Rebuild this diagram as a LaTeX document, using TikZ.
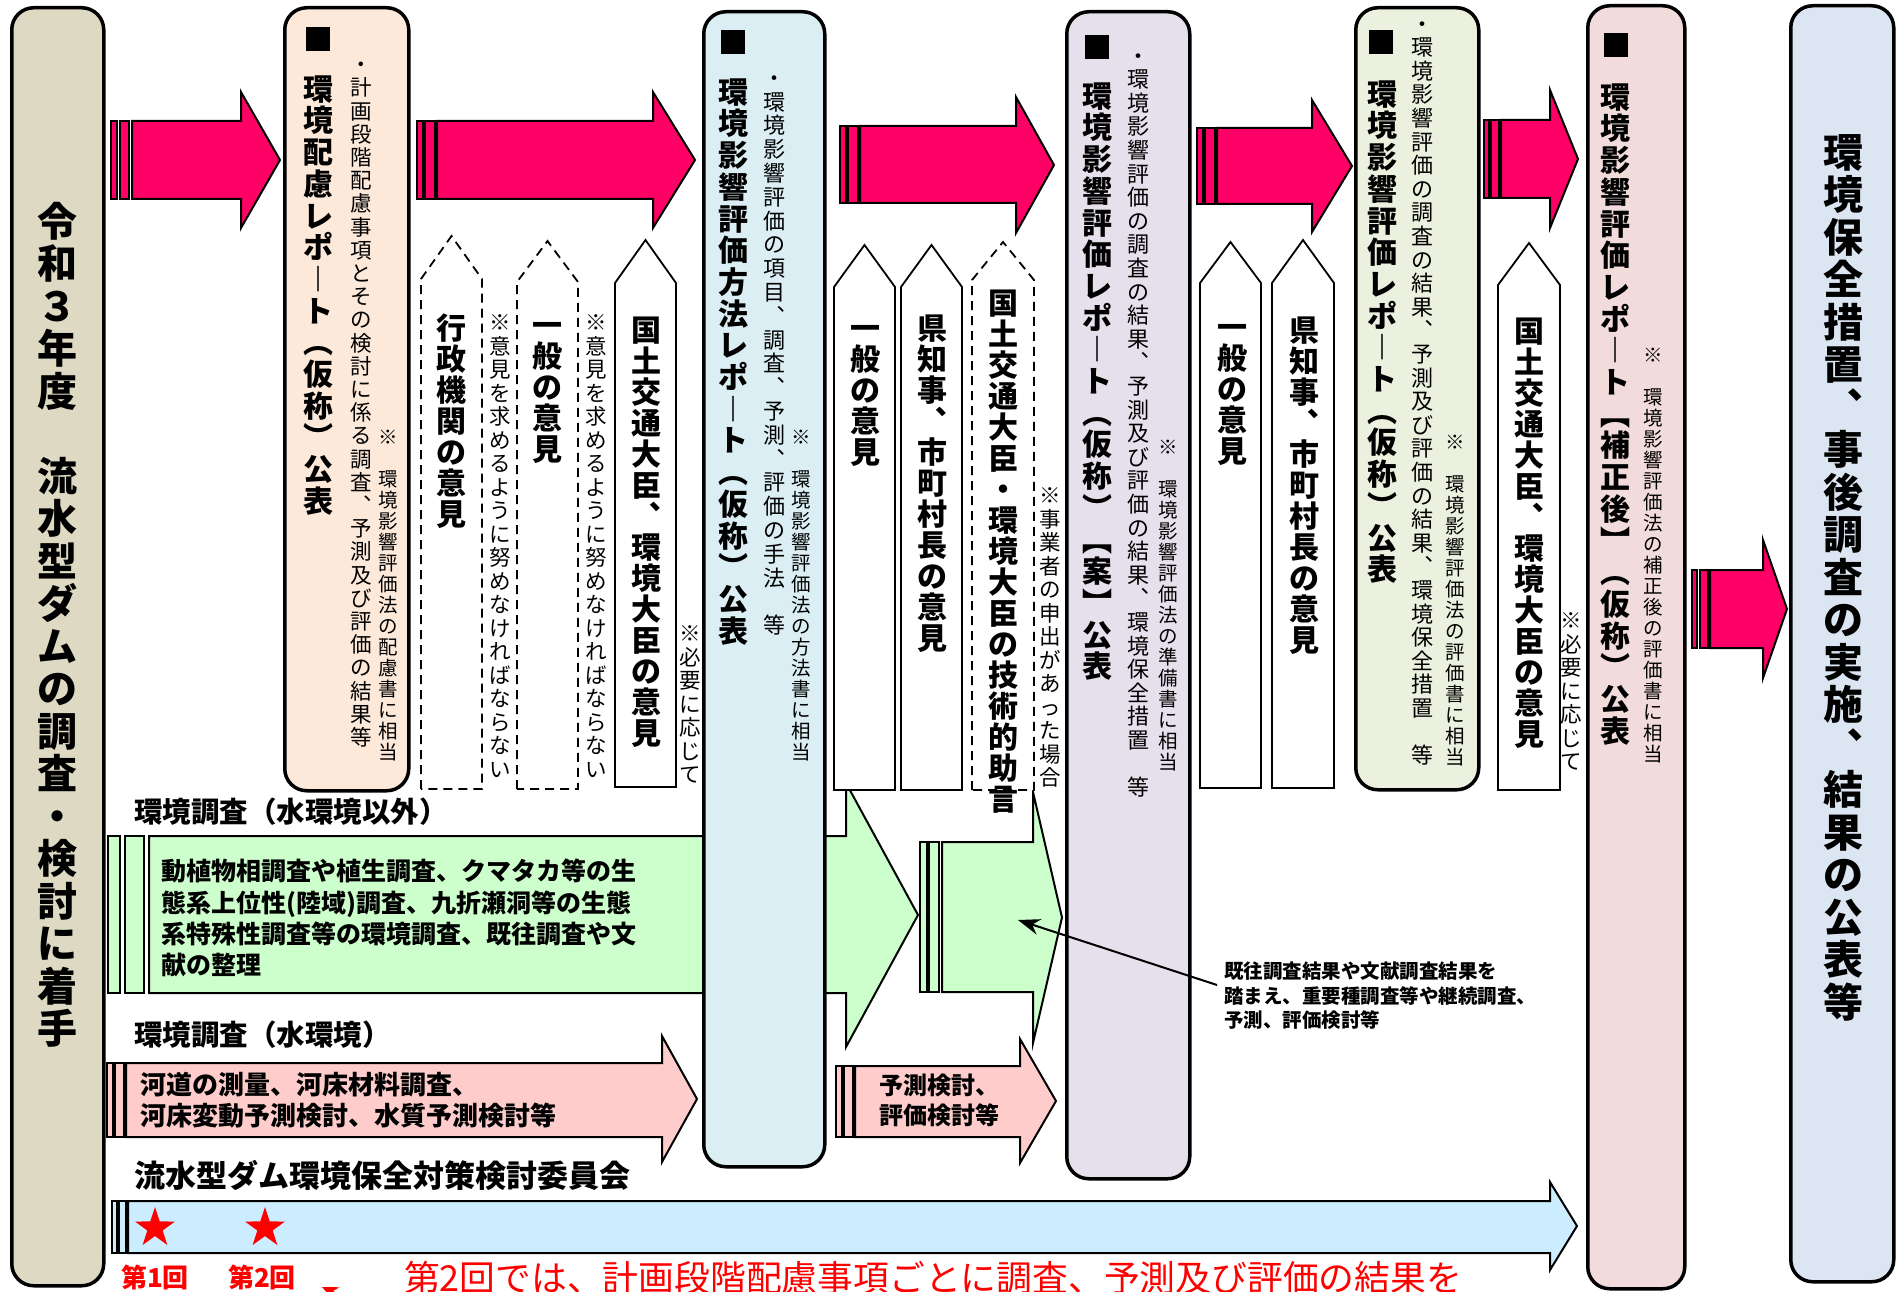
\documentclass[tikz,border=0pt]{standalone}
\usepackage{fontspec}
\setmainfont{Noto Sans CJK JP}
\usetikzlibrary{shapes.geometric,arrows.meta}
\definecolor{cLeft}{HTML}{DDD9C3}
\definecolor{cBa}{HTML}{FDE9D9}
\definecolor{cBb}{HTML}{DAEEF3}
\definecolor{cBc}{HTML}{E5E0EC}
\definecolor{cBd}{HTML}{EBF1DE}
\definecolor{cBe}{HTML}{F2DCDB}
\definecolor{cBf}{HTML}{DCE6F2}
\definecolor{cPink}{HTML}{FF0066}
\definecolor{cGreen}{HTML}{CCFFCC}
\definecolor{cRose}{HTML}{FFCCCC}
\definecolor{cSky}{HTML}{CCECFF}
\makeatletter
\newcommand\vtxt[3]{\fontsize{#1pt}{#2pt}\selectfont\vbox{\baselineskip=#2pt\relax\lineskiplimit=-\maxdimen\lineskip=0pt\relax\@tfor\vt@c:=#3\do{\hbox to 1em{\hss\vt@c\hss\vrule height .88em depth .12em width 0pt}}}}
\makeatother
\tikzset{
  vtnode/.style={inner sep=0pt, outer sep=0pt, anchor=north},
  htnode/.style={inner sep=0pt, outer sep=0pt, anchor=base west},
  bigbox/.style={draw, line width=3.5pt, rounded corners=22pt, inner sep=0pt, anchor=north west},
  arrowline/.style={draw=black, line width=2pt, line join=miter},
  pentS/.style={draw, fill=white, line width=1.8pt},
  pentD/.style={pentS, dash pattern=on 9pt off 6pt},
  sqmark/.style={fill=black, inner sep=0pt, anchor=north west},
  starmark/.style={star, star points=5, star point ratio=2.6, fill=red, inner sep=0pt, minimum size=42pt}
}
\newcommand\vt[7]{\node[vtnode] (#1) at (#2,{#3+(#5-#4)/2}) {#6\vtxt{#4}{#5}{#7}};}
\newcommand\htx[6]{\node[htnode,#6] (#1) at (#2,#3) {\fontsize{#4pt}{#4pt}\selectfont #5};}
\newcommand\pent[6]{\draw[#1] (#2,#6) -- (#2,#5) -- ({(#2+#3)/2},#4) -- (#3,#5) -- (#3,#6) -- cycle;}
\newcommand\sarrow[9]{%
  \filldraw[arrowline, fill=#1] (#2,#6) rectangle ({#2+0.3*(#3-#2)},#7);
  \filldraw[arrowline, fill=#1] ({#2+0.42*(#3-#2)},#6) rectangle ({#2+0.88*(#3-#2)},#7);
  \filldraw[arrowline, fill=#1] (#3,#6) -- (#4,#6) -- (#4,#8) -- (#5,{(#8+#9)/2}) -- (#4,#9) -- (#4,#7) -- (#3,#7) -- cycle;}
\begin{document}
\begin{tikzpicture}[x=1pt,y=-1pt]
\useasboundingbox (0,0) rectangle (1904,1292);
\clip (0,0) rectangle (1904,1292);
\fill[white] (0,0) rectangle (1904,1292);
% lower block arrows
\sarrow{cGreen}{108}{149}{846}{918}{836}{993}{783}{1047}
\sarrow{cGreen}{920}{942}{1033}{1062}{842}{992}{792}{1043}
\sarrow{cRose}{107}{126}{662}{697}{1063}{1137}{1036}{1162}
\sarrow{cRose}{836}{855}{1020}{1056}{1066}{1137}{1039}{1163}
\sarrow{cSky}{112}{128}{1550}{1577}{1201}{1253}{1182}{1270}
% boxes
\node[bigbox, fill=cLeft, minimum width=92pt, minimum height=1278pt] (b0) at (10,6) {};
\node[bigbox, fill=cBa, minimum width=124pt, minimum height=783pt] (b1) at (283,6) {};
\node[bigbox, fill=cBb, minimum width=121pt, minimum height=1155pt] (b2) at (702,10) {};
\node[bigbox, fill=cBc, minimum width=123pt, minimum height=1167pt] (b3) at (1065,10) {};
\node[bigbox, fill=cBd, minimum width=123pt, minimum height=782pt] (b4) at (1354,6) {};
\node[bigbox, fill=cBe, minimum width=97pt, minimum height=1283pt] (b5) at (1586,4) {};
\node[bigbox, fill=cBf, minimum width=103pt, minimum height=1276pt] (b6) at (1789,4) {};
% top arrows
\sarrow{cPink}{111}{132}{241}{280}{121}{199}{92}{228}
\sarrow{cPink}{417}{437}{653}{695}{121}{199}{92}{228}
\sarrow{cPink}{840}{860}{1016}{1054}{126}{203}{97}{233}
\sarrow{cPink}{1197}{1217}{1312}{1352}{128}{204}{100}{232}
\sarrow{cPink}{1484}{1501}{1550}{1578}{120}{198}{90}{228}
\sarrow{cPink}{1692}{1710}{1763}{1787}{570}{648}{540}{678}
% opinion pentagons
\pent{pentD}{421}{482}{236}{279}{789}
\pent{pentD}{517}{578}{241}{282}{789}
\pent{pentS}{615}{676}{240}{283}{787}
\pent{pentS}{834}{895}{245}{287}{790}
\pent{pentS}{901}{962}{245}{287}{790}
\pent{pentD}{972}{1034}{242}{280}{790}
\pent{pentS}{1200}{1261}{242}{283}{788}
\pent{pentS}{1272}{1334}{240}{283}{788}
\pent{pentS}{1498}{1560}{243}{285}{790}
% square marks
\node[sqmark, minimum width=24pt, minimum height=24pt] (m1) at (306,27) {};
\node[sqmark, minimum width=24pt, minimum height=24pt] (m2) at (721,30) {};
\node[sqmark, minimum width=24pt, minimum height=24pt] (m3) at (1085,35) {};
\node[sqmark, minimum width=24pt, minimum height=24pt] (m4) at (1369,30) {};
\node[sqmark, minimum width=24pt, minimum height=24pt] (m5) at (1604,33) {};
% vertical texts
\vt{t0}{57}{200}{40}{42.5}{\bfseries}{令和３年度{}流水型ダムの調査・検討に着手}
\vt{t6}{1843}{131}{40}{42.5}{\bfseries}{環境保全措置︑事後調査の実施︑結果の公表等}
\vt{t1a}{318}{73}{30}{31.7}{\bfseries}{環境配慮レポ︱ト︵仮称︶公表}
\vt{t1b}{361}{53}{21.5}{23.2}{}{・計画段階配慮事項とその検討に係る調査︑予測及び評価の結果等}
\vt{t1c}{388}{427}{19.5}{21}{}{※{}環境影響評価法の配慮書に相当}
\vt{t2a}{733}{76}{30}{31.7}{\bfseries}{環境影響評価方法レポ︱ト︵仮称︶公表}
\vt{t2b}{774}{66}{22}{23.8}{}{・環境影響評価の項目︑調査︑予測︑評価の手法{}等}
\vt{t2c}{801}{427}{19.5}{21}{}{※{}環境影響評価法の方法書に相当}
\vt{t3a}{1097}{80}{30}{31.7}{\bfseries}{環境影響評価レポ︱ト︵仮称︶︻案︼公表}
\vt{t3b}{1138}{44}{22}{23.6}{}{・環境影響評価の調査の結果︑予測及び評価の結果︑環境保全措置{}等}
\vt{t3c}{1168}{437}{19.5}{21}{}{※{}環境影響評価法の準備書に相当}
\vt{t4a}{1382}{78}{30}{31.7}{\bfseries}{環境影響評価レポ︱ト︵仮称︶公表}
\vt{t4b}{1422}{12}{22}{23.6}{}{・環境影響評価の調査の結果︑予測及び評価の結果︑環境保全措置{}等}
\vt{t4c}{1455}{432}{19.5}{21}{}{※{}環境影響評価法の評価書に相当}
\vt{t5a}{1615}{81}{30}{31.7}{\bfseries}{環境影響評価レポ︱ト︻補正後︼︵仮称︶公表}
\vt{t5b}{1653}{345}{19.5}{21}{}{※{}環境影響評価法の補正後の評価書に相当}
% pentagon texts
\vt{p1a}{451}{313}{30}{31}{\bfseries}{行政機関の意見}
\vt{p1b}{547}{310}{30}{31}{\bfseries}{一般の意見}
\vt{p1c}{646}{315}{30}{31}{\bfseries}{国土交通大臣︑環境大臣の意見}
\vt{n1a}{500}{311}{21.5}{23.5}{}{※意見を求めるように努めなければならない}
\vt{n1b}{596}{311}{21.5}{23.5}{}{※意見を求めるように努めなければならない}
\vt{n1c}{690}{622}{21.5}{23.5}{}{※必要に応じて}
\vt{p2a}{865}{313}{30}{31}{\bfseries}{一般の意見}
\vt{p2b}{932}{313}{30}{31}{\bfseries}{県知事︑市町村長の意見}
\vt{p2c}{1003}{288}{30}{31}{\bfseries}{国土交通大臣・環境大臣の技術的助言}
\vt{n2}{1050}{484}{21.5}{23.5}{}{※事業者の申出があった場合}
\vt{p3a}{1232}{312}{30}{31}{\bfseries}{一般の意見}
\vt{p3b}{1304}{315}{30}{31}{\bfseries}{県知事︑市町村長の意見}
\vt{p4}{1529}{316}{30}{31}{\bfseries}{国土交通大臣︑環境大臣の意見}
\vt{n4}{1571}{609}{21.5}{23.5}{}{※必要に応じて}
% horizontal labels
\htx{l1}{134}{822}{28.5}{環境調査（水環境以外）}{font=\bfseries}
\htx{l2}{134}{1045}{28.5}{環境調査（水環境）}{font=\bfseries}
\htx{l3}{134}{1187}{31}{流水型ダム環境保全対策検討委員会}{font=\bfseries}
\htx{g1}{161}{880.5}{25}{動植物相調査や植生調査、クマタカ等の生}{font=\bfseries}
\htx{g2}{161}{912}{25}{態系上位性(陸域)調査、九折瀬洞等の生態}{font=\bfseries}
\htx{g3}{161}{943.5}{25}{系特殊性調査等の環境調査、既往調査や文}{font=\bfseries}
\htx{g4}{161}{974.5}{25}{献の整理}{font=\bfseries}
\htx{r1}{140}{1094}{26}{河道の測量、河床材料調査、}{font=\bfseries}
\htx{r2}{140}{1125}{26}{河床変動予測検討、水質予測検討等}{font=\bfseries}
\htx{s1}{879}{1094}{24}{予測検討、}{font=\bfseries}
\htx{s2}{879}{1124}{24}{評価検討等}{font=\bfseries}
\htx{a1}{1224}{978.5}{19.5}{既往調査結果や文献調査結果を}{font=\bfseries}
\htx{a2}{1224}{1003.5}{19.5}{踏まえ、重要種調査等や継続調査、}{font=\bfseries}
\htx{a3}{1224}{1027.5}{19.5}{予測、評価検討等}{font=\bfseries}
% annotation connector
\coordinate (annS) at (1217,985);
\coordinate (annT) at (1018,920);
\draw[line width=2pt, -{Stealth[length=22pt,width=16pt]}] (annS) -- (annT);
% committee stars and notes
\node[starmark] (st1) at (155,1228) {};
\node[starmark] (st2) at (265,1228) {};
\htx{k1}{121}{1287}{26}{第1回}{font=\bfseries, text=red}
\htx{k2}{228}{1287}{26}{第2回}{font=\bfseries, text=red}
\htx{k3}{404}{1291}{35.8}{第2回では、計画段階配慮事項ごとに調査、予測及び評価の結果を}{text=red}
\coordinate (rS) at (372,1310);
\coordinate (rT) at (322,1287);
\draw[red, line width=2pt, -{Stealth[length=16pt,width=14pt]}] (rS) -- (rT);
\end{tikzpicture}
\end{document}
